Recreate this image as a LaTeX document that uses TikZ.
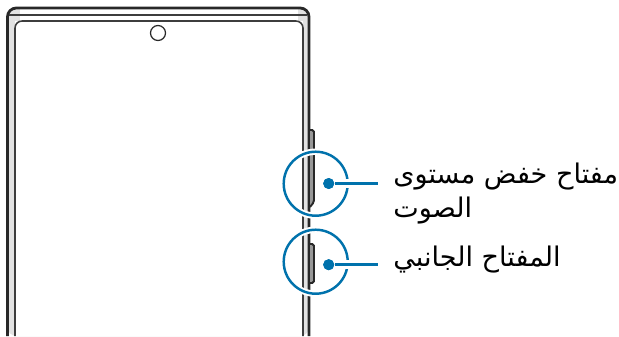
\documentclass[tikz,border=0pt]{standalone}
\usepackage{fontspec}
\usepackage{xcolor}
\usetikzlibrary{positioning,calc}
\TeXXeTstate=1
\newfontfamily\arabicfont[Script=Arabic]{DejaVu Sans}
\definecolor{calloutblue}{RGB}{0,114,172}
\definecolor{bodydark}{RGB}{40,40,40}
\definecolor{bodylight}{RGB}{226,226,226}
\tikzset{
  body-line/.style={draw=bodydark, line width=1.6pt, rounded corners=5pt},
  screen-line/.style={draw=bodydark!90, line width=0.9pt, rounded corners=4pt},
  key-box/.style={draw=bodydark, fill=bodylight!60!bodydark, line width=1.1pt, rounded corners=1pt},
  callout-ring/.style={circle, draw=calloutblue, line width=1.4pt, minimum size=1.28cm, inner sep=0pt},
  ring-halo/.style={circle, draw=white, line width=3.6pt, minimum size=1.28cm, inner sep=0pt},
  callout-dot/.style={circle, fill=calloutblue, minimum size=0.22cm, inner sep=0pt},
  callout-line/.style={draw=calloutblue, line width=1.4pt},
  line-gap/.style={draw=white, line width=5.4pt},
  callout-text/.style={font=\arabicfont\fontsize{15.4}{18.8}\selectfont, align=left, inner sep=0pt, anchor=west}
}
\begin{document}
\begin{tikzpicture}[x=0.02cm, y=-0.02cm]
\useasboundingbox (0,0) rectangle (619,336);
% Phone body
\fill[bodylight, rounded corners=5pt] (7.5,336) -- (7.5,8) -- (309,8) -- (309,336) -- cycle;
\fill[white] (15,336) -- (15,21) -- (303,21) -- (303,336) -- cycle;
\fill[white] (20,9) rectangle (298,21);
\draw[body-line] (7.5,336) -- (7.5,8) -- (309,8) -- (309,336);
\draw[screen-line, line width=0.7pt] (9,15) -- (307,15);
\draw[screen-line] (15,336) -- (15,21) -- (303,21) -- (303,336);
\node[circle, draw=bodydark, line width=0.7pt, minimum size=0.3cm, inner sep=0pt] (camera) at (158,33) {};

% Side keys
\draw[key-box] (310,130) -- (314,130) -- (314,202) -- (310,207);
\draw[key-box] (310,244) -- (314,244) -- (314,283) -- (310,283);

% Callouts
\node[ring-halo] (volhalo) at (315.7,183.7) {};
\node[ring-halo] (sidehalo) at (315.7,261.7) {};
\node[callout-ring] (volring) at (315.7,183.7) {};
\node[callout-ring] (sidering) at (315.7,261.7) {};
\coordinate (volend) at (378,183.5);
\coordinate (sideend) at (378,264.7);
\node[callout-dot] (voldot) at (328.7,183.5) {};
\node[callout-dot] (sidedot) at (328.7,264.7) {};
\draw[line-gap] (voldot) -- (volend);
\draw[line-gap] (sidedot) -- (sideend);
\draw[callout-line] (voldot) -- (volend);
\draw[callout-line] (sidedot) -- (sideend);
\node[callout-dot] at (voldot) {};
\node[callout-dot] at (sidedot) {};

% Labels
\node[callout-text] (vollabel) at (393,193.5) {\beginR مفتاح خفض مستوى\endR\\\beginR الصوت\endR};
\node[callout-text] (sidelabel) at (393,260) {\beginR المفتاح الجانبي\endR};
\end{tikzpicture}
\end{document}
